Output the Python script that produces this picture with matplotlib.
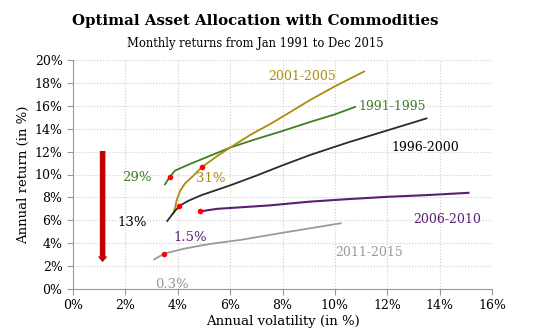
import matplotlib
matplotlib.use("Agg")
import matplotlib.pyplot as plt
from matplotlib.ticker import FuncFormatter, MultipleLocator

plt.rcParams['font.family'] = ['DejaVu Serif']

# Data (annual volatility %, annual return %)
g_x = [3.51, 3.70, 3.90, 4.5, 5.2, 6.0, 7.0, 8.0, 9.0, 10.0, 10.77]
g_y = [9.14, 9.80, 10.35, 10.95, 11.6, 12.35, 13.1, 13.8, 14.55, 15.25, 15.9]

au_x = [3.83, 3.90, 3.96, 4.10, 4.28, 4.60, 4.91, 5.50, 6.00, 6.80, 7.60, 8.40, 9.05, 10.0, 11.12]
au_y = [6.60, 7.10, 7.77, 8.60, 9.23, 9.90, 10.63, 11.60, 12.35, 13.50, 14.50, 15.60, 16.50, 17.70, 19.0]

k_x = [3.60, 3.80, 4.06, 4.40, 4.91, 6.0, 7.0, 8.0, 9.05, 10.5, 12.0, 13.5]
k_y = [5.94, 6.55, 7.25, 7.70, 8.20, 9.05, 9.90, 10.80, 11.70, 12.80, 13.85, 14.90]

p_x = [4.86, 5.5, 6.5, 7.5, 9.05, 10.5, 12.0, 13.5, 15.1]
p_y = [6.78, 7.00, 7.15, 7.30, 7.63, 7.85, 8.05, 8.20, 8.40]

s_x = [3.10, 3.49, 4.2, 4.98, 5.6, 6.38, 7.2, 8.03, 9.05, 10.22]
s_y = [2.59, 3.09, 3.50, 3.84, 4.05, 4.28, 4.60, 4.92, 5.30, 5.74]

dot_x = [3.70, 4.91, 4.06, 4.86, 3.49]
dot_y = [9.80, 10.63, 7.25, 6.78, 3.09]

pct_labels = ["29%", "31%", "13%", "1.5%", "0.3%"]
pct_x = [2.43, 5.26, 2.27, 4.47, 3.79]
pct_y = [9.72, 9.67, 5.79, 4.51, 0.35]

period_labels = ["1991-1995", "2001-2005", "1996-2000", "2006-2010", "2011-2015"]
period_x = [12.19, 8.73, 13.47, 14.29, 11.3]
period_y = [15.9, 18.6, 12.34, 6.11, 3.2]

arrow_x = 1.13
arrow_top = 12.05
arrow_bottom = 2.35

colors = {
    'green': '#3f7f25',
    'gold': '#ad8c0c',
    'black': '#2b2b2b',
    'purple': '#5a1f73',
    'gray': '#9a9a9a',
}

fig = plt.figure(figsize=(5.37, 3.33), dpi=100)
ax = fig.add_axes([73/537, 1-289/333, (492-73)/537, (289-60)/333])

ax.plot(g_x, g_y, color=colors['green'], lw=1.3)
ax.plot(au_x, au_y, color=colors['gold'], lw=1.3)
ax.plot(k_x, k_y, color=colors['black'], lw=1.3)
ax.plot(p_x, p_y, color=colors['purple'], lw=1.5)
ax.plot(s_x, s_y, color=colors['gray'], lw=1.3)
ax.scatter(dot_x, dot_y, color='#ff0000', s=16, zorder=5, linewidths=0)

pct_colors = [colors['green'], colors['gold'], 'black', colors['purple'], colors['gray']]
for t, x, y, c in zip(pct_labels, pct_x, pct_y, pct_colors):
    ax.text(x, y, t, color=c, fontsize=9.5, ha='center', va='center')

per_colors = [colors['green'], colors['gold'], 'black', colors['purple'], colors['gray']]
for t, x, y, c in zip(period_labels, period_x, period_y, per_colors):
    ax.text(x, y, t, color=c, fontsize=9, ha='center', va='center')

ax.annotate('', xy=(arrow_x, arrow_bottom), xytext=(arrow_x, arrow_top),
            arrowprops=dict(arrowstyle='simple,head_length=0.4,head_width=0.7,tail_width=0.4',
                            mutation_scale=10, color='#c00000', lw=0,
                            shrinkA=0, shrinkB=0))

ax.set_xlim(0, 16)
ax.set_ylim(0, 20)
ax.xaxis.set_major_locator(MultipleLocator(2))
ax.yaxis.set_major_locator(MultipleLocator(2))
fmt = FuncFormatter(lambda v, p: f"{v:.0f}%")
ax.xaxis.set_major_formatter(fmt)
ax.yaxis.set_major_formatter(fmt)
ax.grid(True, color='#cccccc', linestyle=':', lw=0.8)
ax.set_axisbelow(True)
for s in ['top', 'right']:
    ax.spines[s].set_visible(False)
for s in ['left', 'bottom']:
    ax.spines[s].set_color('#999999')
ax.tick_params(axis='both', colors='#999999', labelcolor='black', labelsize=9, length=4, width=0.8)
ax.set_xlabel('Annual volatility (in %)', fontsize=9.5, labelpad=2)
ax.set_ylabel('Annual return (in %)', fontsize=9.5, labelpad=3)

fig.text(255/537, 1-21/333, 'Optimal Asset Allocation with Commodities', ha='center', va='center',
         fontsize=10.8, fontweight='bold')
fig.text(255/537, 1-43/333, 'Monthly returns from Jan 1991 to Dec 2015', ha='center', va='center',
         fontsize=8.3)

fig.savefig('out.png', dpi=100)
